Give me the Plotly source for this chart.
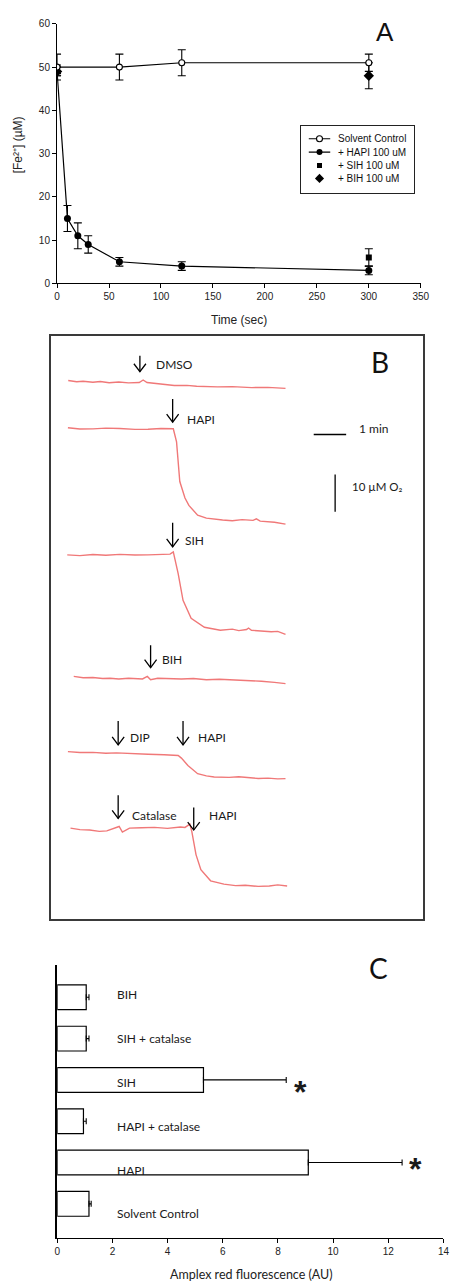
import plotly.graph_objects as go

W, H = 459, 1288


def px(x):
    return x / W


def py(y):
    return 1 - y / H


# ---------------- Panel A data: [Fe2+] (uM) vs time (sec) ----------------
a_time_ctrl = [0, 60, 120, 300]
a_fe_ctrl = [50, 50, 51, 51]
a_err_ctrl = [3, 3, 3, 2]

a_time_hapi = [0, 10, 20, 30, 60, 120, 300]
a_fe_hapi = [49, 15, 11, 9, 5, 4, 3]
a_err_hapi = [1, 3, 3, 2, 1, 1, 1]

a_time_sih = [0, 300]
a_fe_sih = [49.5, 6]
a_err_sih = [1, 2]

a_time_bih = [0, 300]
a_fe_bih = [49, 48]
a_err_bih = [1, 3]

a_xticks = [0, 50, 100, 150, 200, 250, 300, 350]
a_yticks = [0, 10, 20, 30, 40, 50, 60]
a_legend_labels = ["Solvent Control", "+ HAPI 100 uM", "+ SIH 100 uM", "+ BIH 100 uM"]

# ---------------- Panel B data: O2 traces (time in min, change in uM O2) ----------------
b_dmso_t = [0.54, 0.8, 1.0, 1.3, 1.53, 1.8, 2.1, 2.4, 2.73, 2.85, 2.97, 3.2, 3.4, 3.81, 4.2, 4.5, 5.14, 5.6, 6.2, 6.7, 7.24]
b_dmso_o2 = [0, -0.35, -0.2, -0.45, -0.27, -0.6, -0.4, -0.65, -0.53, 0.13, -0.53, -0.8, -0.9, -1.33, -1.3, -1.55, -1.72, -1.65, -1.9, -1.85, -2.12]

b_hapi_t = [0.53, 0.9, 1.3, 1.7, 2.13, 2.6, 3.0, 3.4, 3.78, 3.88, 3.98, 4.14, 4.26, 4.53, 4.8, 5.04, 5.3, 5.6, 5.9, 6.24, 6.34, 6.46, 6.7, 6.9, 7.24]
b_hapi_o2 = [0, -0.35, -0.3, -0.1, -0.21, -0.45, -0.4, -0.2, -0.27, -3.79, -14.4, -18.8, -20.8, -23.4, -24.2, -24.5, -24.7, -24.9, -24.6, -24.8, -24.4, -25.0, -25.1, -25.3, -25.8]

b_sih_t = [0.51, 0.9, 1.3, 1.7, 2.13, 2.6, 3.0, 3.4, 3.68, 3.78, 3.93, 4.08, 4.33, 4.74, 5.0, 5.23, 5.6, 5.8, 6.04, 6.10, 6.19, 6.5, 6.8, 7.0, 7.24]
b_sih_o2 = [0, -0.2, 0.1, -0.1, 0.13, -0.05, 0.0, 0.2, 0.19, 0.8, -5.04, -12.2, -17.0, -19.4, -19.9, -20.2, -19.9, -20.3, -20.0, -19.6, -20.2, -20.4, -20.6, -20.5, -21.3]

b_bih_t = [0.71, 1.0, 1.3, 1.6, 1.83, 2.1, 2.4, 2.83, 2.98, 3.08, 3.3, 3.6, 4.03, 4.4, 4.8, 5.2, 5.64, 6.0, 6.5, 6.9, 7.24]
b_bih_o2 = [0, -0.35, -0.3, -0.55, -0.48, -0.7, -0.5, -0.69, 0, -0.88, -0.5, -0.6, -0.69, -0.55, -0.9, -0.75, -0.88, -1.05, -1.3, -1.6, -1.94]

b_dip_t = [0.53, 0.9, 1.3, 1.7, 2.03, 2.5, 3.0, 3.5, 3.93, 4.03, 4.23, 4.53, 4.8, 5.04, 5.5, 5.8, 6.04, 6.4, 6.7, 7.0, 7.24]
b_dip_o2 = [0, -0.25, -0.2, -0.45, -0.34, -0.6, -0.7, -0.85, -1.06, -1.75, -3.71, -5.92, -6.5, -6.79, -6.9, -6.75, -6.98, -7.2, -7.1, -7.3, -7.24]

b_cat_t = [0.61, 0.9, 1.2, 1.5, 1.73, 2.11, 2.21, 2.43, 2.8, 3.2, 3.6, 4.0, 4.14, 4.29, 4.35, 4.48, 4.63, 4.93, 5.34, 5.7, 6.0, 6.4, 6.74, 7.0, 7.29]
b_cat_o2 = [0, -0.4, -0.5, -0.85, -0.72, 0.45, -1.06, 0, 0.1, 0.2, -0.05, 0.3, 0.19, 1.06, -0.88, -7.08, -11.1, -14.1, -15.0, -15.4, -15.3, -15.6, -15.5, -15.2, -15.5]

b_arrow_labels = ["DMSO", "HAPI", "SIH", "BIH", "DIP", "HAPI", "Catalase", "HAPI"]
b_arrow_t = [2.75, 3.76, 3.76, 3.08, 2.08, 4.08, 2.08, 4.41]
b_arrow_tail = [-5.3, -16.9, -50.0, -82.8, -103.1, -103.1, -123.0, -126.3]
b_arrow_tip = [-9.6, -23.1, -56.5, -88.8, -109.5, -109.5, -129.2, -132.3]
b_label_t = [3.18, 4.13, 4.08, 3.38, 2.38, 4.47, 2.45, 4.81]
b_label_o2 = [-7.6, -22.3, -54.9, -86.6, -107.5, -107.4, -128.3, -128.3]

b_scale_time = 1.0   # min
b_scale_o2 = 10.0    # uM O2

# ---------------- Panel C data: Amplex red fluorescence ----------------
c_categories = ["Solvent Control", "HAPI", "HAPI + catalase", "SIH", "SIH + catalase", "BIH"]
c_values = [1.15, 9.1, 0.95, 5.3, 1.05, 1.05]
c_errors = [0.08, 3.4, 0.1, 3.0, 0.1, 0.1]
c_significant = [False, True, False, True, False, False]
c_xticks = [0, 2, 4, 6, 8, 10, 12, 14]

# ---------------- styles / positions ----------------
ARIAL = "Liberation Sans, Arial, sans-serif"
CALIBRI = "Lato, Open Sans, sans-serif"
RED = "#f07878"
b_row_offsets = [-11.94, -24.59, -58.62, -91.17, -111.3, -131.8]
b_scale_pos = dict(hx=8.11, hy=-26.4, vx=8.77, vy=-37.1)
c_label_x = 2.09
c_label_shift = [-10, -7.5, -5, -3, 0, 3]
c_star_shift = [0, -6, 0, -12, 0, 0]
legend_rows = [13, 26.5, 40, 53]

fig = go.Figure()

# ---- Panel A traces ----
errstyle = dict(type="data", color="black", thickness=1.1, width=4)
fig.add_trace(go.Scatter(
    x=a_time_hapi, y=a_fe_hapi, mode="lines+markers",
    line=dict(color="black", width=1.2),
    marker=dict(symbol="circle", size=7, color="black"),
    error_y=dict(array=a_err_hapi, **errstyle),
    xaxis="x", yaxis="y", showlegend=False))
fig.add_trace(go.Scatter(
    x=a_time_bih, y=a_fe_bih, mode="markers",
    marker=dict(symbol="diamond", size=8, color="black"),
    error_y=dict(array=a_err_bih, **errstyle),
    xaxis="x", yaxis="y", showlegend=False))
fig.add_trace(go.Scatter(
    x=a_time_sih, y=a_fe_sih, mode="markers",
    marker=dict(symbol="square", size=6, color="black"),
    error_y=dict(array=a_err_sih, **errstyle),
    xaxis="x", yaxis="y", showlegend=False))
fig.add_trace(go.Scatter(
    x=a_time_ctrl, y=a_fe_ctrl, mode="lines+markers",
    line=dict(color="black", width=1.2),
    marker=dict(symbol="circle", size=6, color="white", line=dict(color="black", width=1.1)),
    error_y=dict(array=a_err_ctrl, **errstyle),
    xaxis="x", yaxis="y", showlegend=False))

# ---- Panel A legend (drawn in its own small axis) ----
leg_symbols = [
    dict(symbol="circle", size=6, color="white", line=dict(color="black", width=1.1)),
    dict(symbol="circle", size=6, color="black"),
    dict(symbol="square", size=5, color="black"),
    dict(symbol="diamond", size=7, color="black"),
]
for i, (lab, ms) in enumerate(zip(a_legend_labels, leg_symbols)):
    if i < 2:
        fig.add_trace(go.Scatter(x=[8, 30], y=[legend_rows[i]] * 2, mode="lines",
                                 line=dict(color="black", width=1.2),
                                 xaxis="x4", yaxis="y4", showlegend=False))
    fig.add_trace(go.Scatter(x=[19], y=[legend_rows[i]], mode="markers", marker=ms,
                             xaxis="x4", yaxis="y4", showlegend=False))

# ---- Panel B traces ----
b_series = [(b_dmso_t, b_dmso_o2), (b_hapi_t, b_hapi_o2), (b_sih_t, b_sih_o2),
            (b_bih_t, b_bih_o2), (b_dip_t, b_dip_o2), (b_cat_t, b_cat_o2)]
for (t, o2), off in zip(b_series, b_row_offsets):
    fig.add_trace(go.Scatter(x=t, y=[off + v for v in o2], mode="lines",
                             line=dict(color=RED, width=1.4),
                             xaxis="x2", yaxis="y2", showlegend=False))
# scale bars
fig.add_trace(go.Scatter(x=[b_scale_pos["hx"], b_scale_pos["hx"] + b_scale_time],
                         y=[b_scale_pos["hy"]] * 2, mode="lines",
                         line=dict(color="black", width=1.3),
                         xaxis="x2", yaxis="y2", showlegend=False))
fig.add_trace(go.Scatter(x=[b_scale_pos["vx"]] * 2,
                         y=[b_scale_pos["vy"], b_scale_pos["vy"] - b_scale_o2], mode="lines",
                         line=dict(color="black", width=1.3),
                         xaxis="x2", yaxis="y2", showlegend=False))

# ---- Panel C bars ----
fig.add_trace(go.Bar(
    x=c_values, y=c_categories, orientation="h", width=0.6,
    marker=dict(color="white", line=dict(color="black", width=1.2)),
    error_x=dict(type="data", array=c_errors, arrayminus=[0] * len(c_errors),
                 symmetric=False, color="black", thickness=1.1, width=3),
    xaxis="x3", yaxis="y3", showlegend=False))

shapes = []
annotations = []

# arrows in panel B
for t, tail, tip in zip(b_arrow_t, b_arrow_tail, b_arrow_tip):
    shapes.append(dict(type="line", xref="x2", yref="y2", x0=t, x1=t, y0=tail, y1=tip,
                       line=dict(color="black", width=1.3)))
    shapes.append(dict(type="path", xref="x2", yref="y2", xsizemode="pixel", ysizemode="pixel",
                       xanchor=t, yanchor=tip, path="M-6,8 L0,0 L6,8",
                       line=dict(color="black", width=1.3)))
for lab, t, y in zip(b_arrow_labels, b_label_t, b_label_o2):
    annotations.append(dict(text=lab, x=t, y=y, xref="x2", yref="y2", xanchor="left",
                            yanchor="middle", showarrow=False,
                            font=dict(family=CALIBRI, size=12, color="#1a1a1a")))
annotations.append(dict(text="1 min", x=b_scale_pos["hx"] + b_scale_time + 0.35,
                        y=b_scale_pos["hy"] + 1.5, xref="x2", yref="y2", xanchor="left",
                        yanchor="middle", showarrow=False,
                        font=dict(family=CALIBRI, size=12, color="#1a1a1a")))
annotations.append(dict(text="10 \u00b5M O\u2082", x=b_scale_pos["vx"] + 0.45,
                        y=b_scale_pos["vy"] - 3.2, xref="x2", yref="y2", xanchor="left",
                        yanchor="middle", showarrow=False,
                        font=dict(family=CALIBRI, size=11.5, color="#1a1a1a")))

# Panel C labels and asterisks
for cat, shift in zip(c_categories, c_label_shift):
    annotations.append(dict(text=cat, x=c_label_x, y=cat, xref="x3", yref="y3", xanchor="left",
                            yanchor="middle", yshift=shift, showarrow=False,
                            font=dict(family=CALIBRI, size=12, color="#1a1a1a")))
for cat, v, e, sig, sh in zip(c_categories, c_values, c_errors, c_significant, c_star_shift):
    if sig:
        annotations.append(dict(text="*", x=v + e + 0.5, y=cat, xref="x3", yref="y3",
                                xanchor="center", yanchor="middle", yshift=sh, showarrow=False,
                                font=dict(family=ARIAL, size=32, color="#1a1a1a",
                                          weight="bold")))

# Panel A legend texts
for lab, ry in zip(a_legend_labels, legend_rows):
    annotations.append(dict(text=lab, x=36, y=ry, xref="x4", yref="y4", xanchor="left",
                            yanchor="middle", showarrow=False,
                            font=dict(family=ARIAL, size=10, color="#111")))

# axis titles (as annotations)
annotations.append(dict(text="Time (sec)", x=px(242), y=py(317), xref="paper", yref="paper",
                        xanchor="center", yanchor="middle", showarrow=False,
                        font=dict(family=ARIAL, size=12, color="#222")))
annotations.append(dict(text="[Fe\u00b2\u207a] (\u00b5M)", x=px(15), y=py(140), xref="paper",
                        yref="paper", xanchor="center", yanchor="middle", textangle=-90,
                        showarrow=False, font=dict(family=ARIAL, size=12, color="#222")))
annotations.append(dict(text="Amplex red fluorescence (AU)", x=px(255), y=py(1280),
                        xref="paper", yref="paper", xanchor="center", yanchor="middle",
                        showarrow=False, font=dict(family=CALIBRI, size=12.5, color="#222")))

# panel letters
annotations.append(dict(text="A", x=px(392), y=py(26), xref="paper", yref="paper",
                        xanchor="center", yanchor="middle", showarrow=False,
                        font=dict(family=ARIAL, size=26, color="#111")))
annotations.append(dict(text="B", x=px(387), y=py(359), xref="paper", yref="paper",
                        xanchor="center", yanchor="middle", showarrow=False,
                        font=dict(family=CALIBRI, size=28, color="#111")))
annotations.append(dict(text="C", x=px(386), y=py(971), xref="paper", yref="paper",
                        xanchor="center", yanchor="middle", showarrow=False,
                        font=dict(family=CALIBRI, size=28, color="#111")))

tickfont = dict(family=ARIAL, size=10, color="#222")
common = dict(showgrid=False, zeroline=False)

fig.update_layout(
    width=W, height=H, margin=dict(l=0, r=0, t=0, b=0),
    paper_bgcolor="white", plot_bgcolor="white", showlegend=False,
    shapes=shapes, annotations=annotations,
    xaxis=dict(domain=[px(55.5), px(429)], range=[0, 350], tickvals=a_xticks,
               ticks="outside", ticklen=4, tickcolor="black", showline=True,
               linecolor="black", linewidth=1.1, tickfont=tickfont, anchor="y", **common),
    yaxis=dict(domain=[py(280), py(18)], range=[0, 60], tickvals=a_yticks,
               ticks="outside", ticklen=4, tickcolor="black", showline=True,
               linecolor="black", linewidth=1.1, tickfont=tickfont, anchor="x", **common),
    xaxis2=dict(domain=[px(49), px(431)], range=[0, 382 / 33.3], showline=True, mirror=True,
                linecolor="#3a3a3a", linewidth=1.5, showticklabels=False, ticks="",
                anchor="y2", **common),
    yaxis2=dict(domain=[py(922), py(333)], range=[-(922 - 333) / 3.77, 0], showline=True,
                mirror=True, linecolor="#3a3a3a", linewidth=1.5, showticklabels=False,
                ticks="", anchor="x2", **common),
    xaxis3=dict(domain=[px(55.7), px(452.3)], range=[0, 14], tickvals=c_xticks,
                ticks="outside", ticklen=4, tickcolor="black", showline=True,
                linecolor="black", linewidth=1.1, tickfont=tickfont, anchor="y3", **common),
    yaxis3=dict(domain=[py(1243.3), py(967.7)], range=[-0.82, 5.79], type="category",
                categoryorder="array", categoryarray=c_categories, showline=True,
                linecolor="black", linewidth=1.5, showticklabels=False, ticks="",
                anchor="x3", **common),
    xaxis4=dict(domain=[px(306), px(422)], range=[0, 116], showline=True, mirror=True,
                linecolor="#222", linewidth=1.3, showticklabels=False, ticks="",
                anchor="y4", **common),
    yaxis4=dict(domain=[py(189), py(121)], range=[68, 0], showline=True, mirror=True,
                linecolor="#222", linewidth=1.3, showticklabels=False, ticks="",
                anchor="x4", **common),
)

fig.write_html("out.html")
